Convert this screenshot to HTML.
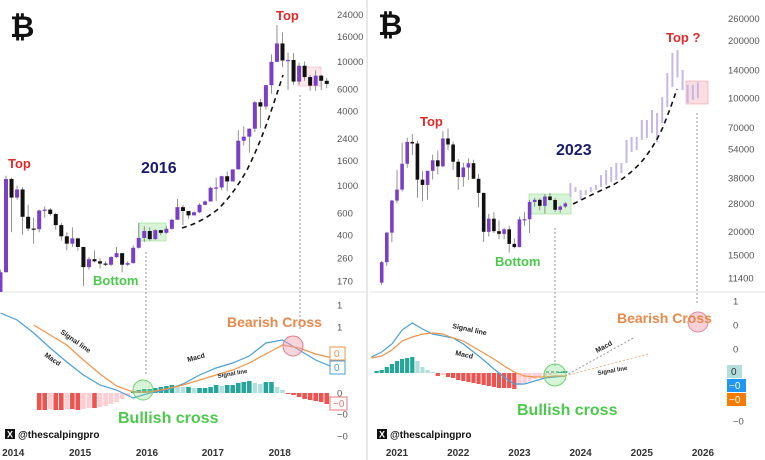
<!DOCTYPE html>
<html><head><meta charset="utf-8"><style>
html,body{margin:0;padding:0;background:#fff;overflow:hidden;}
svg{display:block;font-family:"Liberation Sans",sans-serif;}
.ann{font-family:"Liberation Sans Narrow","Liberation Sans",sans-serif;font-weight:bold;}
.ax{font-size:9.5px;fill:#555;}
.yr{font-size:10px;fill:#333;font-weight:bold;}
</style></head><body>
<svg id="c" width="765" height="460" viewBox="0 0 765 460">
<defs>
<clipPath id="clipL"><rect x="0" y="0" width="333" height="292"/></clipPath>
<clipPath id="clipR"><rect x="370" y="0" width="352" height="292"/></clipPath>
</defs>
<rect width="765" height="460" fill="#fff"/>
<line x1="0" y1="292" x2="366" y2="292" stroke="#e4e4e4"/>
<line x1="370" y1="292" x2="765" y2="292" stroke="#e4e4e4"/>
<line x1="367" y1="0" x2="367" y2="460" stroke="#d0d0d0"/>
<g>
<line x1="146" y1="252" x2="146" y2="375" stroke="#999" stroke-dasharray="2,2"/>
<line x1="300" y1="95" x2="300" y2="330" stroke="#999" stroke-dasharray="2,2"/>
<line x1="555" y1="228" x2="555" y2="366" stroke="#999" stroke-dasharray="2,2"/>
<line x1="697" y1="113" x2="697" y2="305" stroke="#999" stroke-dasharray="2,2"/>
<rect x="139" y="223" width="27" height="18" fill="#5fd35f" fill-opacity="0.25" stroke="#8fe08f" stroke-width="0.6"/>
<rect x="298" y="67" width="23" height="19" fill="#f08a9a" fill-opacity="0.2" stroke="#f2b3bd" stroke-width="0.6"/>
<rect x="529" y="194" width="42" height="20" fill="#5fd35f" fill-opacity="0.25" stroke="#8fe08f" stroke-width="0.6"/>
<rect x="686" y="81" width="22" height="23" fill="#f08a9a" fill-opacity="0.3" stroke="#f2a3ad" stroke-width="0.6"/>
</g>
<g id="gL" clip-path="url(#clipL)"></g>
<g id="gR" clip-path="url(#clipR)"></g>
<g id="gM"></g>
<g id="gA"></g>
<g>
<path d="M182 228 Q200 223 217 210 Q233 195 247 170 Q257 150 267 123 Q275 100 283 75" fill="none" stroke="#111" stroke-width="1.6" stroke-dasharray="5,4"/>
<path d="M573 204 Q595 193 613 185 Q630 175 643 160 Q655 145 663 127 Q671 107 677 89" fill="none" stroke="#111" stroke-width="1.6" stroke-dasharray="5,4"/>
<line x1="565" y1="376" x2="635" y2="337" stroke="#999" stroke-dasharray="2,2"/>
<line x1="565" y1="376" x2="648" y2="354" stroke="#f0b080" stroke-dasharray="2,2"/>
<circle cx="143" cy="390" r="10" fill="#8fe08f" fill-opacity="0.35" stroke="#6fd36f"/>
<circle cx="293" cy="346" r="10" fill="#f4a0b0" fill-opacity="0.45" stroke="#e07a8a"/>
<circle cx="555" cy="375" r="11" fill="#8fe08f" fill-opacity="0.35" stroke="#6fd36f"/>
<line x1="546" y1="372" x2="564" y2="372" stroke="#2a9a4a" stroke-dasharray="3,2"/>
<circle cx="698" cy="322" r="10" fill="#f8d0d8" stroke="#e08a9a"/>
<text x="10" y="37" font-size="30" font-weight="bold" fill="#111">₿</text>
<text x="378" y="35" font-size="30" font-weight="bold" fill="#111">₿</text>
<text class="ann" x="8" y="168" font-size="13" fill="#e02a2a">Top</text>
<text class="ann" x="141" y="173" font-size="16" fill="#1a1a6e">2016</text>
<text class="ann" x="93" y="285" font-size="13" fill="#4cc94c">Bottom</text>
<text class="ann" x="276" y="20" font-size="13" fill="#e02a2a">Top</text>
<text class="ann" x="227" y="327" font-size="14" fill="#e8884a">Bearish Cross</text>
<text class="ann" x="118" y="423" font-size="16" fill="#4cc94c">Bullish cross</text>
<text class="ann" x="60" y="333" font-size="7" fill="#222" transform="rotate(35 60 333)">Signal line</text>
<text class="ann" x="44" y="356" font-size="7" fill="#222" transform="rotate(35 44 356)">Macd</text>
<text class="ann" x="188" y="362" font-size="7" fill="#222" transform="rotate(-15 188 362)">Macd</text>
<text class="ann" x="218" y="378" font-size="6" fill="#222" transform="rotate(-10 218 378)">Signal line</text>
<text class="ann" x="420" y="126" font-size="13" fill="#e02a2a">Top</text>
<text class="ann" x="556" y="155" font-size="16" fill="#1a1a6e">2023</text>
<text class="ann" x="495" y="266" font-size="13" fill="#4cc94c">Bottom</text>
<text class="ann" x="666" y="42" font-size="13" fill="#e02a2a">Top ?</text>
<text class="ann" x="617" y="323" font-size="14" fill="#e8884a">Bearish Cross</text>
<text class="ann" x="517" y="415" font-size="16" fill="#4cc94c">Bullish cross</text>
<text class="ann" x="452" y="328" font-size="7" fill="#222" transform="rotate(12 452 328)">Signal line</text>
<text class="ann" x="455" y="355" font-size="7" fill="#222" transform="rotate(12 455 355)">Macd</text>
<text class="ann" x="597" y="353" font-size="7" fill="#222" transform="rotate(-28 597 353)">Macd</text>
<text class="ann" x="598" y="375" font-size="6" fill="#222" transform="rotate(-10 598 375)">Signal line</text>
<g>
<rect x="5" y="429" width="10" height="10" fill="#111"/><text x="7" y="437.5" font-size="9" fill="#fff" font-weight="bold">X</text>
<text x="18" y="438" font-size="10" font-weight="bold" fill="#111">@thescalpingpro</text></g>
<g>
<rect x="377" y="429" width="10" height="10" fill="#111"/><text x="379" y="437.5" font-size="9" fill="#fff" font-weight="bold">X</text>
<text x="390" y="438" font-size="10" font-weight="bold" fill="#111">@thescalpingpro</text></g>
<rect x="330" y="347" width="15" height="13" fill="#fff" stroke="#f0944a"/>
<text x="334" y="357" font-size="10" fill="#f0944a">0</text>
<rect x="330" y="361" width="15" height="13" fill="#fff" stroke="#4a9fd8"/>
<text x="334" y="371" font-size="10" fill="#4a9fd8">0</text>
<rect x="330" y="397" width="17" height="13" fill="#fff" stroke="#e07a7a"/>
<text x="333" y="407" font-size="10" fill="#e07a7a">−0</text>
<rect x="727" y="365" width="15" height="13" fill="#b2dfdb"/>
<text x="731" y="375" font-size="10" fill="#333">0</text>
<rect x="727" y="379" width="19" height="13" fill="#2196f3"/>
<text x="729" y="389" font-size="10" fill="#fff">−0</text>
<rect x="727" y="393" width="19" height="13" fill="#f57c00"/>
<text x="729" y="403" font-size="10" fill="#fff">−0</text>
</g>
</svg>
<script>
// ---- LEFT price data (monthly, index 0 = Nov 2013, starts at -1) ----
const leftOpen=[130,200,1130,800,930,560,450,445,630,640,590,480,390,340,375,320,220,255,245,235,230,265,285,230,237,315,378,430,370,437,416,448,530,670,624,575,609,700,745,960,965,1190,1080,1350,2300,2480,2875,4700,4340,6450,9950,14000,10200,10300,6900,9250,7500,6400,7700,7000];
const leftClose=[200,1130,800,930,560,450,445,630,640,590,480,390,340,375,320,220,255,245,235,230,265,285,230,237,315,378,430,370,437,416,448,530,670,624,575,609,700,745,960,965,1190,1080,1350,2300,2480,2875,4700,4340,6450,9950,14000,10200,10300,6900,9250,7500,6400,7700,7000,6600];
const leftHigh=[210,1200,1160,1000,970,700,550,640,680,660,600,500,420,460,380,320,265,300,260,245,270,320,285,245,330,500,470,460,445,440,470,540,780,700,620,620,720,760,980,1160,1200,1300,1350,2800,3000,2900,4800,5000,6470,11400,19700,17200,11800,11700,9800,10000,7800,8500,7800,7400];
const leftLow=[120,200,420,770,400,430,340,420,550,570,440,360,300,320,300,155,210,240,215,225,225,260,200,225,235,310,350,360,365,400,410,440,530,480,540,590,600,690,740,750,920,900,1080,1350,2100,1850,2700,2900,4100,5500,10800,9000,5900,6500,6500,7000,5800,5800,5900,6100];
const leftPriceTicks=[24000,16000,10000,6000,4000,2400,1600,1000,600,400,260,170];
const leftYears=["2014","2015","2016","2017","2018"];
const leftYearMonth=[1.3,13.4,25.5,37.4,49.5];
// MACD left (sampled every 3 months starting at month -1)
const leftMacd=[8.0,7.3,6.0,4.5,3.1,1.8,0.8,0.3,-0.5,0,0.3,0.9,1.8,2.5,3.0,3.7,5.0,5.3,4.3,3.3,2.6];
const leftSignal=[null,null,6.8,5.8,4.8,3.3,1.9,0.7,0.1,0.1,0.4,0.8,1.3,1.8,2.3,3.0,3.9,4.8,4.5,3.9,3.5];
const leftHist=[-1.7,-1.7,-1.6,-1.7,-1.7,-1.6,-1.6,-1.7,-1.6,-1.5,-1.5,-1.4,-1.3,-1.1,-0.9,-0.6,-0.3,
0.2,0.3,0.4,0.4,0.5,0.6,0.7,0.8,0.7,0.6,0.6,0.5,0.5,0.5,0.6,0.8,0.7,0.8,0.8,1.0,1.1,1.2,1.0,0.9,1.1,1.1,0.6,0.3,
-0.1,-0.2,-0.4,-0.6,-0.7,-0.8,-0.9,-1.1];
const leftMacdTicks=[["1",305],["1",327],["0",393],["−0",414],["−0",436]];

// ---- RIGHT price data (monthly, index 0 = Jan 2021, starts at -3) ----
const rightOpen=[10780,13800,19700,29000,33100,45200,58800,57700,37300,35000,41500,47100,43800,61300,57000,46300,38500,43200,45500,37700,31800,19900,23300,20050,19400,20500,17200,16550,23100,23150,28500,29250,27200,30450,29200,25950,26970];
const rightClose=[13800,19700,29000,33100,45200,58800,57700,37300,35000,41500,47100,43800,61300,57000,46300,38500,43200,45500,37700,31800,19900,23300,20050,19400,20500,17200,16550,23100,23150,28500,29250,27200,30450,29200,25950,26970,28000];
const rightHigh=[14000,19900,29300,41900,58300,61800,64800,59500,41300,40500,50500,52900,67000,69000,59000,47900,45800,48200,47400,40000,31900,24700,25200,22800,20900,21400,18400,23900,25200,29200,30000,29800,31400,31800,29900,27400,28500];
const rightLow=[10500,13200,17600,28100,32400,43000,50200,30000,28800,29300,37400,39800,43300,53300,42000,33000,34300,37200,37600,26700,17600,18800,19600,18200,18200,15500,16300,16500,21400,19600,26900,25800,24800,28900,25300,25000,26500];
// projection bars (months 34..59): lows/highs
const projHigh=[35800,34100,32900,32900,34100,35000,39400,41900,43500,45600,45600,60200,62400,62400,76600,76600,86400,83300,101000,135000,172000,178000,140000,117000,117000,121000];
const projLow=[30300,32100,29200,31000,32100,32900,34100,35000,36300,37200,40400,45600,52100,53300,60200,61700,65400,58700,73900,89600,114000,128000,110000,94000,97500,99800];
const rightPriceTicks=[260000,200000,140000,100000,70000,54000,38000,28000,20000,15000,11400];
const rightYears=["2021","2022","2023","2024","2025","2026"];
const rightYearMonth=[0,12,24,36,48,60];
// MACD right (sampled every 2 months starting at month -5)
const rightMacd=[1.6,2.1,2.9,4.3,5.0,4.4,3.9,3.7,3.5,2.9,2.1,1.3,0.4,-0.4,-1.1,-1.1,-0.8,-0.5,-0.4,-0.3];
const rightSignal=[1.5,1.7,2.3,3.2,3.6,3.9,4.0,3.9,3.5,3.2,2.6,2.0,1.4,0.7,0.1,-0.3,-0.4,-0.4,-0.3,-0.3];
const rightHist=[0.2,0.3,0.6,0.9,1.2,1.4,1.5,1.6,1.2,0.6,0.3,0.1,-0.3,-0.2,-0.4,-0.5,-0.7,-0.8,-0.9,-1.0,-1.1,-1.2,-1.3,-1.4,-1.5,-1.5,-1.5,-1.6,-1.2,-1.0,-0.8,-0.6,-0.4,-0.3,-0.2,-0.1,0.1,0.2];
const rightMacdTicks=[["1",301],["0",325],["0",349],["−0",421]];

const NS="http://www.w3.org/2000/svg";
function mk(tag,attrs,parent){const e=document.createElementNS(NS,tag);for(const k in attrs)e.setAttribute(k,attrs[k]);parent.appendChild(e);return e;}
const gL=document.getElementById('gL'),gR=document.getElementById('gR'),gM=document.getElementById('gM'),gA=document.getElementById('gA');
const xL=i=>6+5.53*i, yL=v=>281-124*Math.log10(v/170);
const xR=i=>397+5.1*i, yR=v=>278-191*Math.log10(v/11400);
const mL=v=>393-v*10, mR=v=>373-v*10;
const PURPLE="#7a3fc6",BLACK="#111";

function candles(g,open,close,high,low,start,xf,yf,w,nm){
  for(let k=0;k<open.length;k++){
    const i=start+k,x=xf(i),up=close[k]>=open[k];
    const col=up?PURPLE:BLACK;
    const wk=mk('line',{x1:x,x2:x,y1:yf(high[k]),y2:yf(low[k]),stroke:"#777","stroke-width":0.8},g);
    
    
    const t=yf(Math.max(open[k],close[k])),b=yf(Math.min(open[k],close[k]));
    const r=mk('rect',{x:x-w/2,y:t,width:w,height:Math.max(1.2,b-t),fill:col},g);
    
    
  }
}
candles(gL,leftOpen,leftClose,leftHigh,leftLow,-1,xL,yL,4,'left');
candles(gR,rightOpen,rightClose,rightHigh,rightLow,-3,xR,yR,3.6,'right');
for(let k=0;k<projHigh.length;k++){
  const x=xR(34+k);
  const r=mk('rect',{x:x-1,y:yR(projHigh[k]),width:2,height:yR(projLow[k])-yR(projHigh[k]),fill:"#c6b8e6"},gR);
  
  
}
leftPriceTicks.forEach(v=>{const t=mk('text',{x:337,y:yL(v)+3.5,class:'ax'},gA);t.textContent=v;
  
  });
rightPriceTicks.forEach(v=>{const t=mk('text',{x:728,y:yR(v)+3.5,class:'ax'},gA);t.textContent=v;
  
  });
leftYears.forEach((s,k)=>{const t=mk('text',{x:xL(leftYearMonth[k]),y:456,class:'yr','text-anchor':'middle'},gA);t.textContent=s;
  
  });
rightYears.forEach((s,k)=>{const t=mk('text',{x:xR(rightYearMonth[k]),y:456,class:'yr','text-anchor':'middle'},gA);t.textContent=s;
  
  });
leftMacdTicks.forEach(a=>{const t=mk('text',{x:337,y:a[1]+3.5,class:'ax'},gA);t.textContent=a[0];
  
  });
rightMacdTicks.forEach(a=>{const t=mk('text',{x:733,y:a[1]+3.5,class:'ax'},gA);t.textContent=a[0];
  
  });
function hist(vals,start,xf,mf,w,nm){
  for(let k=0;k<vals.length;k++){
    const v=vals[k],p=k>0?vals[k-1]:0,x=xf(start+k);
    let col;
    if(v>=0) col=(v>=p)?"#26a69a":"#b2dfdb"; else col=(v<=p)?"#ef5350":"#ffcdd2";
    const y0=mf(0),y1=mf(v);
    const r=mk('rect',{x:x-w/2,y:Math.min(y0,y1),width:w,height:Math.max(0.8,Math.abs(y1-y0)),fill:col},gM);
    
    
  }
}
hist(leftHist,6,xL,mL,4.6,'left');
hist(rightHist,-4,xR,mR,4.2,'right');
function line(vals,start,step,xf,mf,col,nm){
  let d='';vals.forEach((v,k)=>{if(v===null)return;d+=(d?'L':'M')+xf(start+k*step).toFixed(1)+' '+mf(v).toFixed(1);});
  const p=mk('path',{d:d,fill:'none',stroke:col,'stroke-width':1.2},gM);
  
  
}
line(leftMacd,-1,3,xL,mL,"#4a9fd8",'left-macd-line');
line(leftSignal,-1,3,xL,mL,"#f0944a",'left-signal-line');
line(rightMacd,-5,2,xR,mR,"#4a9fd8",'right-macd-line');
line(rightSignal,-5,2,xR,mR,"#f0944a",'right-signal-line');
</script>
</body></html>
